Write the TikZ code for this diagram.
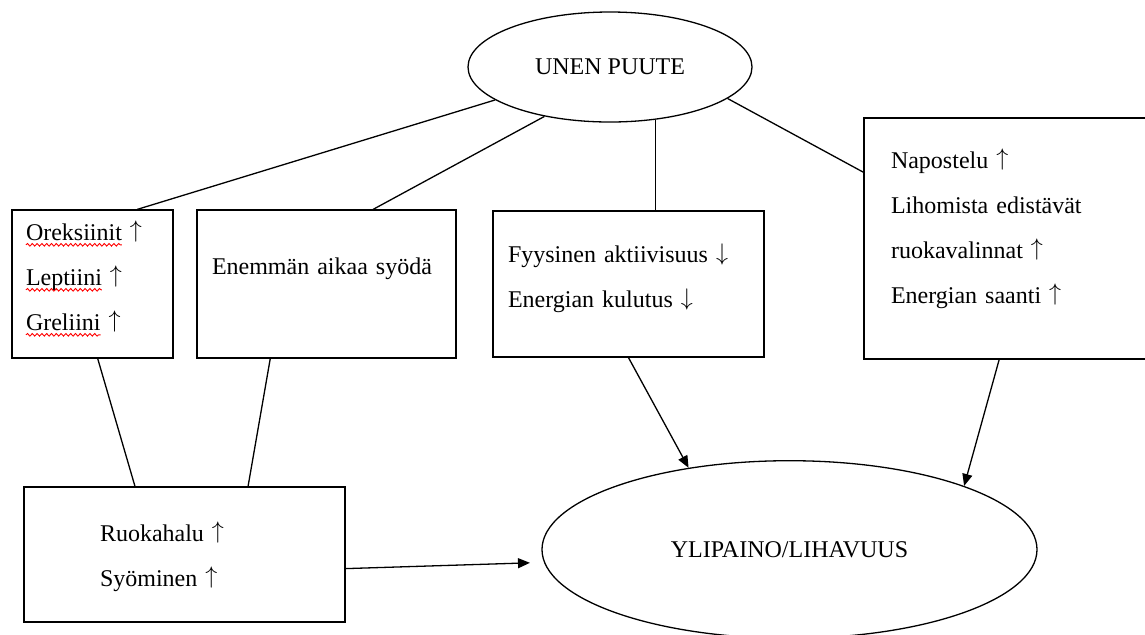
\documentclass[tikz,border=0pt]{standalone}
\usepackage{fontspec}
\setmainfont{Liberation Serif}
\usepackage{xcolor}
\usetikzlibrary{arrows.meta, shapes.geometric, decorations.pathmorphing}
\newcommand\up{\raisebox{1.5pt}{$\uparrow$}}
\newcommand\down{\raisebox{1pt}{$\downarrow$}}

\begin{document}
\begin{tikzpicture}[x=0.5pt, y=-0.5pt, >={Triangle[length=6pt, width=5pt]},
    every node/.style={font=\fontsize{12}{22.5}\selectfont},
    box/.style={draw, line width=0.65pt, rectangle, inner sep=0pt, align=left, text height=0pt},
    oval/.style={draw, line width=0.65pt, ellipse, inner sep=0pt},
    link/.style={line width=0.65pt},
    spell/.style={red, line width=0.45pt, decorate, decoration={snake, amplitude=0.65pt, segment length=2.4pt}}]
    \useasboundingbox (0,0) rectangle (1145,634);
    \node[oval, minimum width=142pt, minimum height=55pt] (unen) at (610,67) {UNEN PUUTE};
    \node[box, minimum width=80.5pt, minimum height=74pt, text width=66.5pt, text depth=44pt] (oreks) at (92.5,284)
        {Oreksiinit \up\\ Leptiini \up\\ Greliini \up};
    \node[box, minimum width=129.5pt, minimum height=74pt, text width=114.5pt, text depth=10pt] (aikaa) at (326.5,284)
        {Enemmän aikaa syödä};
    \node[box, minimum width=135.5pt, minimum height=73pt, text width=120.5pt, text depth=22pt] (fyys) at (628.5,284)
        {Fyysinen aktiivisuus \down\\ Energian kulutus \down};
    \node[box, minimum width=141.5pt, minimum height=120.5pt, text width=114.5pt, text depth=70.5pt] (napo) at (1005.5,238.5)
        {Napostelu \up\\ Lihomista edistävät\\ ruokavalinnat \up\\ Energian saanti \up};
    \node[box, minimum width=160.5pt, minimum height=67.5pt, text width=84.5pt, text depth=13.5pt] (ruoka) at (184.5,554.5)
        {Ruokahalu \up\\ Syöminen \up};
    \node[oval, minimum width=247.5pt, minimum height=88.8pt] (ylip) at (789.5,549.5) {YLIPAINO/LIHAVUUS};

    \foreach \word [count=\i from 0] in {Oreksiinit, Leptiini, Greliini}{
        \fontsize{12}{22.5}\selectfont
        \pgfmathsetmacro\wordw{width("\word")}
        \draw[spell] ([xshift=-33.25pt, yshift=19.6pt-22.5pt*\i]oreks.center) -- ++(\wordw pt, 0pt);
    }

    \draw[link] (unen.196) -- (oreks.59);
    \draw[link] (unen.217) -- (aikaa.58);
    \draw[link] (unen.311) -- (unen.311 |- fyys.north);
    \draw[link] (unen.345) -- (napo.155);
    \draw[link] (oreks.274) -- (ruoka.126);
    \draw[link] (aikaa.233) -- (ruoka.47);
    \draw[link, ->] (fyys.south) -- (ylip.141);
    \draw[link, ->] (napo.267) -- (ylip.20);
    \draw[link, ->, shorten >=7pt] (ruoka.355) -- (ylip.183);
\end{tikzpicture}
\end{document}
